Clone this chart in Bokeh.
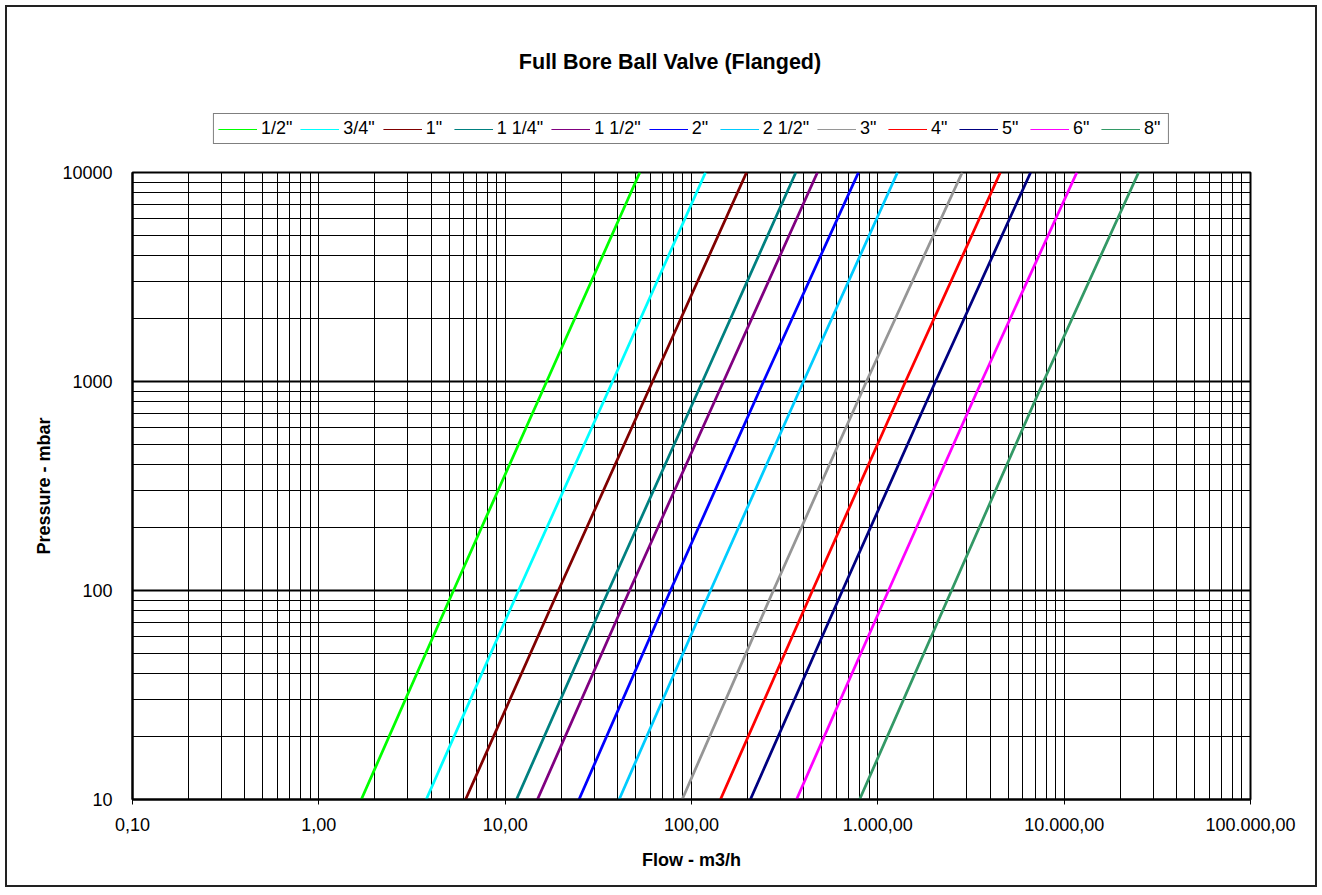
from bokeh.plotting import figure
from bokeh.layouts import column
from bokeh.models import FixedTicker, Legend, LegendItem, InlineStyleSheet, Label, Range1d
from bokeh.embed import file_html
from bokeh.resources import INLINE

# ---- data ----
series_names = ['1/2"', '3/4"', '1"', '1 1/4"', '1 1/2"', '2"', '2 1/2"', '3"', '4"', '5"', '6"', '8"']
series_colors = ["#00FF00", "#00FFFF", "#800000", "#008080", "#800080", "#0000FF",
                 "#00CCFF", "#969696", "#FF0000", "#000080", "#FF00FF", "#339966"]
pressure_mbar = [10, 100, 1000, 10000]
flow_at_10 = [1.69, 3.77, 6.13, 11.5, 14.9, 24.9, 40.9, 89.1, 143, 207, 366, 798]
flow_at_100 = [5.28, 11.8, 19.3, 35.9, 46.5, 77.1, 126.5, 275, 446, 646, 1141, 2486]
flow_at_1000 = [16.7, 37.7, 61.8, 114.5, 148.5, 243.5, 399, 869, 1408, 2040, 3601, 7745]
flow_at_10000 = [52.8, 118.9, 197.4, 363, 474, 787, 1275, 2837, 4543, 6607, 11695, 25090]

x_tick_values = [0.1, 1, 10, 100, 1000, 10000, 100000]
x_tick_labels = ["0,10", "1,00", "10,00", "100,00", "1.000,00", "10.000,00", "100.000,00"]
y_tick_values = [10, 100, 1000, 10000]
y_tick_labels = ["10", "100", "1000", "10000"]

title_text = "Full Bore Ball Valve (Flanged)"
x_label = "Flow - m3/h"
y_label = "Pressure - mbar"

FONT = "Liberation Sans"
HEAD_H = 158
FRAME_L = 132
FRAME_W = 1118

# ---------- header: title + legend ----------
head = figure(frame_width=FRAME_W, frame_height=HEAD_H,
              x_range=Range1d(0, FRAME_W), y_range=Range1d(0, HEAD_H),
              x_axis_location=None, y_axis_location=None,
              output_backend="svg", toolbar_location=None,
              min_border_left=FRAME_L, min_border_right=72,
              min_border_top=0, min_border_bottom=0)
head.grid.visible = False
head.outline_line_color = None
head.background_fill_color = None
head.border_fill_color = None

head.add_layout(Label(x=669.5 - FRAME_L, y=HEAD_H - 61, text=title_text, text_align="center",
                      text_baseline="middle", text_font=FONT, text_font_size="21.5px",
                      text_font_style="bold", text_color="black"))

items = []
for i, name in enumerate(series_names):
    r = head.line(x=[float("nan")], y=[float("nan")], line_color=series_colors[i], line_width=1)
    items.append(LegendItem(label=name, renderers=[r]))

legend = Legend(items=items, orientation="horizontal", location="bottom_center",
                label_text_font=FONT, label_text_font_size="18px", label_text_color="black",
                glyph_width=39, glyph_height=20, label_standoff=4, spacing=8,
                padding=4, margin=HEAD_H - 144, border_line_color="black", border_line_width=1,
                background_fill_color="white", background_fill_alpha=1)
head.add_layout(legend, "center")

# ---------- main chart ----------
p = figure(frame_width=FRAME_W, frame_height=627, x_axis_type="log", y_axis_type="log",
           x_range=(0.1, 100000), y_range=(10, 10000),
           output_backend="svg", toolbar_location=None,
           min_border_left=FRAME_L, min_border_right=72,
           min_border_top=14, min_border_bottom=93)

p.border_fill_color = None
p.background_fill_color = "white"

minor_x = [m * 10.0 ** k for k in range(-1, 5) for m in range(2, 10)]
minor_y = [m * 10.0 ** k for k in range(1, 4) for m in range(2, 10)]
p.xaxis.ticker = FixedTicker(ticks=x_tick_values, minor_ticks=minor_x)
p.yaxis.ticker = FixedTicker(ticks=y_tick_values, minor_ticks=minor_y)
p.xaxis.major_label_overrides = {v: s for v, s in zip(x_tick_values, x_tick_labels)}
p.yaxis.major_label_overrides = {v: s for v, s in zip(y_tick_values, y_tick_labels)}

p.xgrid.grid_line_color = "black"
p.xgrid.grid_line_width = 1
p.xgrid.minor_grid_line_color = "black"
p.xgrid.minor_grid_line_width = 1
p.ygrid.grid_line_color = "black"
p.ygrid.grid_line_width = 2
p.ygrid.minor_grid_line_color = "black"
p.ygrid.minor_grid_line_width = 1

p.outline_line_color = "black"
p.outline_line_width = 2

for ax in (p.xaxis, p.yaxis):
    ax.axis_line_color = "black"
    ax.axis_line_width = 2
    ax.major_tick_in = 0
    ax.minor_tick_in = 0
    ax.minor_tick_out = 0
    ax.major_tick_line_color = "black"
    ax.major_label_text_font = FONT
    ax.major_label_text_font_size = "18px"
    ax.major_label_text_color = "black"
    ax.axis_label_text_font = FONT
    ax.axis_label_text_font_size = "18px"
    ax.axis_label_text_font_style = "bold"
    ax.axis_label_text_color = "black"

p.xaxis.major_tick_out = 5
p.xaxis.major_label_standoff = 13
p.xaxis.axis_label = x_label
p.xaxis.axis_label_standoff = 16
p.yaxis.major_tick_out = 0
p.yaxis.major_label_standoff = 20
p.yaxis.axis_label = y_label
p.yaxis.axis_label_standoff = 5

for i, name in enumerate(series_names):
    xs = [flow_at_10[i], flow_at_100[i], flow_at_1000[i], flow_at_10000[i]]
    p.line(xs, pressure_mbar, line_color=series_colors[i], line_width=2.75)

page = column(head, p, spacing=0)
page.stylesheets = [InlineStyleSheet(css=":host { background: white; box-shadow: inset 0 0 0 5px white, inset 0 0 0 7px #222; }")]

open("out.html", "w").write(file_html(page, INLINE))
